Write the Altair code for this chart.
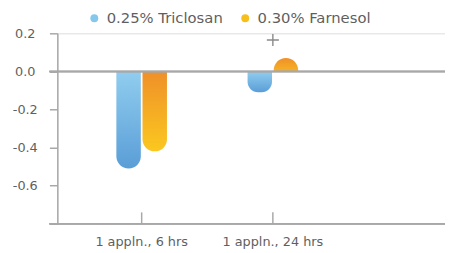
import altair as alt
import pandas as pd

categories = ["1 appln., 6 hrs", "1 appln., 24 hrs"]
series = ["0.25% Triclosan", "0.30% Farnesol"]
triclosan = [-0.51, -0.11]
farnesol = [-0.42, 0.07]
marker_category = ["1 appln., 24 hrs"]
marker_value = [0.165]
y_ticks = [0.2, 0.0, -0.2, -0.4, -0.6, -0.8]

rows = []
for c, t, f in zip(categories, triclosan, farnesol):
    rows.append({"cat": c, "series": series[0], "value": t})
    rows.append({"cat": c, "series": series[1], "value": f})
df = pd.DataFrame(rows)
marks_df = pd.DataFrame({"cat": marker_category, "value": marker_value})

W, H = 393, 193
FONT = "DejaVu Sans"
AXIS_GRAY = "#a8a8a8"
TEXT_GRAY = "#5f5f5f"

xscale = alt.Scale(domain=categories, range=[19, 285], paddingInner=0, paddingOuter=0)
yscale = alt.Scale(domain=[-0.8, 0.2], nice=False, zero=False)
xoff_scale = alt.Scale(domain=series, range=[40.85, 92.15], paddingInner=0.064, paddingOuter=0)

x_axis = alt.Axis(offset=-12, domain=False, tickSize=12, tickColor=AXIS_GRAY, tickWidth=1.5,
                  labelPadding=12, labelFontSize=13, labelColor=TEXT_GRAY, labelFont=FONT,
                  labelAngle=0, title=None)
y_axis = alt.Axis(values=y_ticks, tickCount=len(y_ticks) + 2, grid=False, tickSize=8,
                  tickColor=AXIS_GRAY, tickWidth=1.5,
                  domainColor=AXIS_GRAY, domainWidth=1.5, labelAlign="center", labelBaseline="middle",
                  labelPadding=25, labelFontSize=13, labelColor=TEXT_GRAY, labelFont=FONT, title=None,
                  labelOverlap=False, labelBound=False,
                  labelExpr="datum.value <= -0.79 ? '' : (datum.value < -0.001 ? '-' : '') + format(abs(datum.value), '.1f')")

grad_blue = alt.LinearGradient(gradient="linear",
                               stops=[alt.GradientStop(color="#90CDEF", offset=0),
                                      alt.GradientStop(color="#5A9ED7", offset=1)],
                               x1=0, x2=0, y1=0, y2=1)
grad_orange = alt.LinearGradient(gradient="linear",
                                 stops=[alt.GradientStop(color="#EF9029", offset=0),
                                        alt.GradientStop(color="#FBC81F", offset=1)],
                                 x1=0, x2=0, y1=0, y2=1)
# used for a positive bar drawn mirrored (only its top half stays visible)
grad_orange_half = alt.LinearGradient(gradient="linear",
                                      stops=[alt.GradientStop(color="#EF9029", offset=0),
                                             alt.GradientStop(color="#F6B225", offset=0.5),
                                             alt.GradientStop(color="#FFFFFF", offset=1)],
                                      x1=0, x2=0, y1=0, y2=1)
grad_blue_half = alt.LinearGradient(gradient="linear",
                                    stops=[alt.GradientStop(color="#90CDEF", offset=0),
                                           alt.GradientStop(color="#70B2E0", offset=0.5),
                                           alt.GradientStop(color="#FFFFFF", offset=1)],
                                    x1=0, x2=0, y1=0, y2=1)

base = alt.Chart(df)
R = 12.4
X_ENC = alt.X("cat:N", scale=xscale, axis=x_axis, sort=categories)
XO_ENC = alt.XOffset("series:N", scale=xoff_scale)


def neg_layer(s, grad):
    return base.transform_filter(f"datum.series == '{s}' && datum.value < 0").mark_bar(
        color=grad, cornerRadiusBottomLeft=R, cornerRadiusBottomRight=R).encode(
        x=X_ENC, xOffset=XO_ENC,
        y=alt.Y("value:Q", scale=yscale, axis=y_axis, stack=None),
    )


def pos_layers(s, grad):
    src = base.transform_filter(f"datum.series == '{s}' && datum.value >= 0").transform_calculate(
        mirror="-datum.value")
    full = src.mark_bar(color=grad, cornerRadius=R).encode(
        x=X_ENC, xOffset=XO_ENC,
        y=alt.Y("value:Q", scale=yscale, axis=y_axis, stack=None),
        y2="mirror:Q",
    )
    cover = src.mark_bar(color="white", width=28).encode(
        x=X_ENC, xOffset=XO_ENC,
        y=alt.Y("mirror:Q", scale=yscale, axis=y_axis, stack=None),
        y2=alt.datum(0),
    )
    return [full, cover]


bars = [
    neg_layer(series[0], grad_blue),
    *pos_layers(series[0], grad_blue_half),
    neg_layer(series[1], grad_orange),
    *pos_layers(series[1], grad_orange_half),
]

legend_layer = base.mark_circle(opacity=0).encode(
    x=X_ENC,
    y=alt.Y("value:Q", scale=yscale, axis=y_axis),
    color=alt.Color("series:N",
                    scale=alt.Scale(domain=series, range=["#86C7EC", "#F8BE1C"]),
                    legend=alt.Legend(orient="none", legendX=30, legendY=-23, direction="horizontal",
                                      title=None, symbolType="circle", symbolSize=64,
                                      symbolOpacity=1, symbolStrokeWidth=0,
                                      labelFontSize=15, labelColor=TEXT_GRAY, labelFont=FONT,
                                      columnPadding=15, labelOffset=5)),
)

zero_rule = alt.Chart(df).mark_rule(color=AXIS_GRAY, strokeWidth=1.5).encode(
    y=alt.datum(0, scale=yscale), x=alt.value(-8), x2=alt.value(W + 2))
bottom_rule = alt.Chart(df).mark_rule(color=AXIS_GRAY, strokeWidth=1.5).encode(
    y=alt.datum(-0.8, scale=yscale), x=alt.value(-8), x2=alt.value(W + 2))

plus = alt.Chart(marks_df).mark_point(shape="M-1,0L1,0M0,-1L0,1", size=150, filled=False,
                                      color="#8a8a8a", strokeWidth=1.4, opacity=1).encode(
    x=X_ENC,
    y=alt.Y("value:Q", scale=yscale, axis=y_axis),
)

chart = alt.layer(legend_layer, *bars, zero_rule, bottom_rule, plus).properties(
    width=W, height=H,
    padding={"left": 50, "top": 24, "right": 0, "bottom": 26},
    autosize="none",
    background="white",
).configure_view(stroke=None).configure(font=FONT)

chart.save("out.html", embed_options={"renderer": "svg", "actions": False})
